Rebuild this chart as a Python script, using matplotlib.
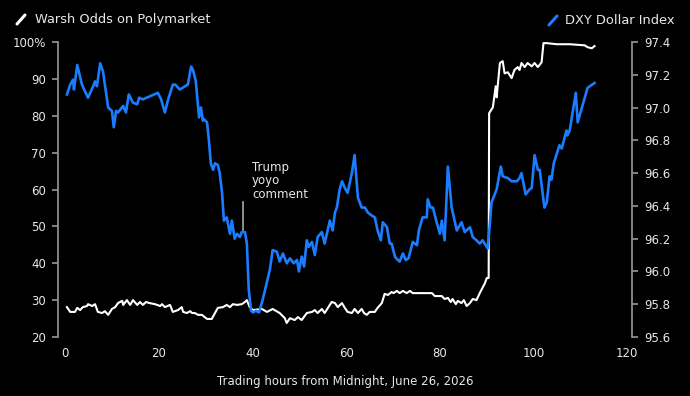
import matplotlib
matplotlib.use("Agg")
import matplotlib.pyplot as plt
from matplotlib.lines import Line2D

# ---- Data ----
# Warsh odds on Polymarket (%), left axis
warsh_hours = [0.4, 1.1, 2.1, 2.6, 3.2, 3.8, 4.7, 4.9, 5.8, 6.4, 7.0, 7.9, 8.5, 9.2, 10.0, 10.7,
               11.3, 12.2, 12.4, 13.2, 13.9, 14.5, 15.4, 16.0, 16.6, 17.3, 18.0, 19.2, 20.3, 20.7,
               21.3, 22.4, 23.0, 24.1, 24.9, 25.2, 26.0, 26.7, 27.1, 27.7, 28.4, 29.2, 30.3, 31.3,
               32.0, 32.6, 33.7, 34.5, 35.2, 35.8, 36.7, 37.7, 38.4, 38.8, 39.4, 40.1, 42.0, 43.1,
               44.3, 45.8, 46.9, 47.3, 48.0, 49.0, 49.7, 50.5, 51.6, 52.7, 53.3, 53.9, 54.8, 55.4,
               56.1, 56.9, 57.6, 58.2, 59.1, 59.7, 60.3, 61.2, 61.8, 62.5, 63.3, 63.8, 64.4, 65.0,
               66.1, 66.7, 67.6, 68.2, 68.9, 69.7, 70.1, 70.8, 71.4, 72.1, 72.9, 73.6, 74.2, 75.1,
               78.3, 78.9, 80.4, 81.0, 81.7, 82.3, 82.7, 83.4, 83.8, 84.6, 85.1, 85.7, 86.4, 87.0,
               87.8, 88.5, 89.6, 90.0, 90.4, 90.5, 91.3, 91.9, 92.1, 92.8, 93.4, 93.8, 94.5, 95.3,
               95.9, 96.6, 97.0, 97.4, 98.1, 98.7, 99.6, 100.2, 100.9, 101.7, 102.1, 102.8, 104.9,
               107.7, 110.9, 111.5, 112.4, 113.0]
warsh_odds = [28.1, 26.8, 26.8, 27.9, 27.3, 28.1, 28.4, 28.9, 28.4, 28.9, 26.8, 26.5, 27.0, 26.0,
              27.6, 28.1, 29.2, 29.8, 28.7, 30.0, 28.7, 30.0, 28.7, 29.5, 28.7, 29.5, 29.2, 28.9,
              28.4, 28.9, 28.1, 28.7, 26.8, 27.3, 28.1, 26.8, 26.5, 27.0, 26.5, 26.5, 26.0, 26.0,
              24.9, 24.9, 26.5, 27.9, 28.1, 28.7, 28.1, 28.9, 28.7, 28.9, 29.5, 30.0, 28.1, 27.3,
              27.6, 26.8, 27.6, 26.5, 25.1, 23.8, 25.1, 24.6, 25.4, 24.6, 26.5, 26.8, 27.3, 26.5,
              27.6, 26.5, 27.9, 29.5, 29.2, 28.1, 29.2, 27.9, 26.8, 26.5, 27.6, 26.5, 27.6, 26.5,
              26.0, 26.8, 26.8, 27.9, 29.2, 31.7, 31.4, 32.2, 31.9, 32.5, 31.9, 32.5, 31.9, 32.5,
              31.9, 31.9, 31.9, 31.1, 31.1, 30.3, 30.6, 29.5, 30.3, 28.9, 29.8, 29.2, 30.0, 28.4,
              29.2, 30.3, 30.0, 31.9, 34.6, 36.0, 36.0, 80.7, 82.3, 88.0, 85.0, 94.3, 94.8, 91.5,
              91.8, 90.2, 92.4, 93.2, 92.4, 94.3, 93.2, 94.3, 93.4, 94.3, 93.2, 94.5, 99.7, 99.7,
              99.4, 99.4, 99.1, 98.6, 98.3, 98.9]

# DXY Dollar Index, right axis
dxy_hours = [0.4, 1.1, 1.7, 1.9, 2.6, 3.6, 4.9, 6.0, 6.4, 6.8, 7.5, 8.1, 9.2, 10.0, 10.4, 10.9,
             11.3, 12.4, 13.0, 13.6, 14.5, 15.4, 15.8, 16.6, 19.8, 20.5, 21.3, 22.0, 23.0, 23.5,
             24.5, 25.6, 26.2, 26.9, 27.3, 27.9, 28.6, 29.0, 29.4, 29.6, 30.3, 30.7, 31.1, 31.6,
             32.0, 32.6, 33.0, 33.5, 33.9, 34.5, 35.2, 35.6, 36.2, 36.7, 37.3, 37.7, 38.4, 38.8,
             39.2, 39.7, 40.1, 40.7, 41.4, 42.2, 43.7, 44.3, 45.2, 45.8, 46.5, 47.3, 48.0, 48.8,
             49.5, 49.9, 50.5, 51.0, 51.6, 52.0, 52.7, 53.3, 53.9, 54.8, 55.4, 56.5, 57.1, 57.6,
             58.0, 58.6, 59.1, 59.7, 60.3, 61.2, 61.8, 62.5, 63.3, 64.0, 64.6, 65.5, 66.1, 66.7,
             67.4, 67.8, 68.7, 69.3, 69.7, 70.4, 71.0, 71.4, 72.1, 72.7, 73.3, 74.2, 75.1, 75.5,
             76.3, 77.2, 77.4, 78.0, 78.5, 79.3, 80.0, 80.4, 81.0, 81.7, 82.5, 83.6, 84.6, 85.3,
             86.4, 87.0, 87.8, 88.5, 89.1, 90.0, 90.2, 90.6, 91.0, 92.1, 93.0, 93.4, 94.5, 95.3,
             96.4, 97.0, 97.4, 98.3, 99.1, 99.6, 100.2, 100.9, 101.3, 102.3, 102.8, 103.4, 103.8,
             104.3, 105.5, 106.0, 107.0, 107.2, 107.7, 109.0, 109.4, 110.9, 111.5, 113.0]
dxy_values = [97.08, 97.14, 97.17, 97.11, 97.26, 97.14, 97.06, 97.13, 97.16, 97.13, 97.27, 97.22,
              97.00, 96.98, 96.88, 96.98, 96.97, 97.01, 96.97, 97.08, 97.03, 97.02, 97.06, 97.05,
              97.09, 97.05, 96.97, 97.05, 97.14, 97.14, 97.11, 97.13, 97.14, 97.25, 97.23, 97.16,
              96.94, 97.00, 96.92, 96.93, 96.91, 96.80, 96.66, 96.62, 96.66, 96.65, 96.60, 96.48,
              96.31, 96.33, 96.23, 96.31, 96.20, 96.23, 96.21, 96.24, 96.24, 96.17, 95.89, 95.76,
              95.75, 95.76, 95.75, 95.83, 96.01, 96.13, 96.12, 96.06, 96.11, 96.05, 96.08, 96.05,
              96.07, 96.00, 96.09, 96.03, 96.19, 96.15, 96.18, 96.10, 96.21, 96.24, 96.17, 96.31,
              96.25, 96.36, 96.39, 96.50, 96.55, 96.51, 96.48, 96.60, 96.71, 96.45, 96.39, 96.39,
              96.36, 96.34, 96.33, 96.25, 96.19, 96.30, 96.27, 96.17, 96.17, 96.09, 96.07, 96.06,
              96.11, 96.07, 96.08, 96.18, 96.16, 96.25, 96.33, 96.33, 96.44, 96.39, 96.39, 96.30,
              96.23, 96.31, 96.19, 96.64, 96.39, 96.25, 96.30, 96.24, 96.27, 96.21, 96.19, 96.17,
              96.19, 96.15, 96.14, 96.27, 96.42, 96.50, 96.64, 96.58, 96.57, 96.55, 96.55, 96.57,
              96.60, 96.47, 96.50, 96.51, 96.71, 96.62, 96.62, 96.39, 96.42, 96.58, 96.56, 96.66,
              96.77, 96.75, 96.86, 96.83, 96.86, 97.09, 96.91, 97.06, 97.12, 97.15]

x_ticks = [0, 20, 40, 60, 80, 100, 120]
left_ticks = [20, 30, 40, 50, 60, 70, 80, 90, 100]
left_tick_labels = ["20", "30", "40", "50", "60", "70", "80", "90", "100%"]
right_ticks = [95.6, 95.8, 96.0, 96.2, 96.4, 96.6, 96.8, 97.0, 97.2, 97.4]
right_tick_labels = ["95.6", "95.8", "96.0", "96.2", "96.4", "96.6", "96.8", "97.0", "97.2", "97.4"]

annot_hour = 38.0
annot_line = [49.0, 56.6]
annot_text = "Trump\nyoyo\ncomment"

# ---- Styling ----
BG = "black"
TXT = "#e8e8e8"
SPINE = "#8c8c8c"
BLUE = "#1a7dff"
FS = 8.5
plt.rcParams["font.family"] = ["DejaVu Sans"]

fig = plt.figure(figsize=(6.9, 3.96), dpi=100, facecolor=BG)
ax = fig.add_axes([0.0841, 0.149, 0.8319, 0.7449])
ax.set_facecolor(BG)
ax2 = ax.twinx()

ax.plot(warsh_hours, warsh_odds, color="white", lw=1.5, solid_joinstyle="round", zorder=3)
ax2.plot(dxy_hours, dxy_values, color=BLUE, lw=1.9, solid_joinstyle="round", zorder=3)

ax.set_xlim(-1.5, 121)
ax.set_ylim(20, 100)
ax2.set_ylim(95.6, 97.4)

ax.set_xticks(x_ticks)
ax.set_xticklabels([str(t) for t in x_ticks])
ax.set_yticks(left_ticks)
ax.set_yticklabels(left_tick_labels)
ax2.set_yticks(right_ticks)
ax2.set_yticklabels(right_tick_labels)

for a in (ax, ax2):
    for s in a.spines.values():
        s.set_visible(False)
    a.tick_params(colors=TXT, labelsize=FS)
ax.spines["left"].set_visible(True)
ax.spines["left"].set_color(SPINE)
ax.spines["left"].set_linewidth(1.3)
ax2.spines["right"].set_visible(True)
ax2.spines["right"].set_color(SPINE)
ax2.spines["right"].set_linewidth(1.3)

ax.tick_params(axis="x", length=0, pad=7, labelcolor=TXT)
ax.tick_params(axis="y", length=4.5, width=1.3, color=SPINE, pad=4, labelcolor=TXT)
ax2.tick_params(axis="y", length=4.5, width=1.3, color=SPINE, pad=4, labelcolor=TXT)

ax.set_xlabel("Trading hours from Midnight, June 26, 2026", color=TXT, fontsize=FS, labelpad=11)

# annotation
ax.plot([annot_hour, annot_hour], annot_line, color="#9a9a9a", lw=1.3, zorder=2)
ax.text(annot_hour + 1.9, 67.8, annot_text, color=TXT, fontsize=FS, va="top", ha="left",
        linespacing=1.05, zorder=4)

# legend-like headers
LFS = 9.4
fig.add_artist(Line2D([17 / 690, 25 / 690], [1 - 24 / 396, 1 - 15 / 396], color="white", lw=2.2,
                      solid_capstyle="round"))
fig.text(35 / 690, 1 - 20 / 396, "Warsh Odds on Polymarket", color=TXT, fontsize=LFS,
         va="center", ha="left")
fig.add_artist(Line2D([549 / 690, 557 / 690], [1 - 25 / 396, 1 - 16 / 396], color=BLUE, lw=2.2,
                      solid_capstyle="round"))
fig.text(565 / 690, 1 - 20 / 396, "DXY Dollar Index", color=TXT, fontsize=LFS,
         va="center", ha="left")

fig.savefig("out.png", dpi=100, facecolor=BG)
